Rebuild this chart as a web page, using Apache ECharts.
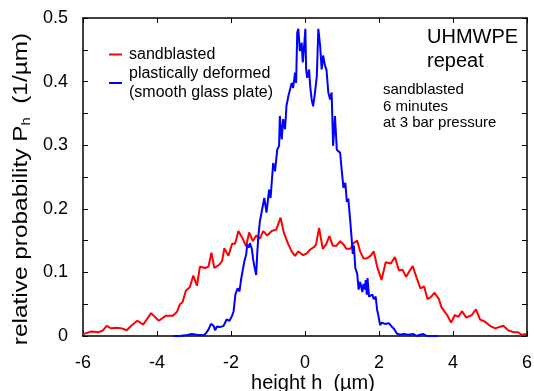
<!DOCTYPE html>
<html>
<head>
<meta charset="utf-8">
<script src="https://cdn.jsdelivr.net/npm/echarts@6/dist/echarts.min.js"></script>
<style>html,body{margin:0;padding:0;background:#fff}#c{width:534px;height:391px}</style>
</head>
<body>
<div id="c"></div>
<script>
// sandblasted (red)
const redH = [-6.00,-5.77,-5.57,-5.46,-5.36,-5.24,-5.08,-4.95,-4.82,-4.68,
  -4.53,-4.37,-4.16,-3.95,-3.76,-3.57,-3.46,-3.38,-3.31,-3.22,
  -3.11,-3.02,-2.92,-2.84,-2.70,-2.61,-2.53,-2.45,-2.32,-2.24,
  -2.18,-2.07,-1.97,-1.89,-1.80,-1.70,-1.59,-1.51,-1.41,-1.32,
  -1.22,-1.13,-1.02,-0.90,-0.78,-0.66,-0.57,-0.45,-0.36,-0.27,
  -0.18,-0.05,0.05,0.14,0.25,0.30,0.38,0.48,0.57,0.66,
  0.75,0.85,0.95,1.04,1.12,1.23,1.31,1.41,1.49,1.58,
  1.67,1.77,1.86,1.95,2.07,2.18,2.32,2.43,2.54,2.64,
  2.73,2.91,3.02,3.12,3.22,3.31,3.40,3.50,3.62,3.69,
  3.84,3.95,4.05,4.14,4.24,4.36,4.51,4.62,4.73,4.85,
  5.00,5.14,5.36,5.49,5.63,5.76,5.85,5.97];
const redP = [0.003,0.007,0.006,0.009,0.016,0.012,0.013,0.012,0.009,0.017,
  0.024,0.018,0.036,0.024,0.032,0.032,0.038,0.050,0.053,0.071,
  0.077,0.095,0.079,0.109,0.107,0.109,0.131,0.107,0.112,0.118,
  0.138,0.126,0.145,0.145,0.165,0.155,0.141,0.163,0.149,0.158,
  0.153,0.165,0.158,0.165,0.167,0.186,0.162,0.144,0.133,0.126,
  0.133,0.127,0.130,0.136,0.140,0.144,0.170,0.137,0.144,0.157,
  0.142,0.142,0.149,0.144,0.137,0.137,0.146,0.150,0.133,0.122,
  0.122,0.126,0.133,0.109,0.088,0.116,0.114,0.124,0.103,0.104,
  0.093,0.110,0.091,0.075,0.078,0.058,0.061,0.068,0.058,0.045,
  0.033,0.021,0.033,0.030,0.039,0.029,0.033,0.042,0.026,0.023,
  0.016,0.012,0.016,0.009,0.006,0.006,0.002,0.003];

// plastically deformed (blue)
const blueH = [-3.57,-3.38,-3.24,-3.06,-2.93,-2.75,-2.68,-2.61,-2.54,-2.47,
  -2.43,-2.38,-2.30,-2.20,-2.12,-2.04,-1.97,-1.93,-1.88,-1.82,
  -1.77,-1.73,-1.69,-1.64,-1.59,-1.56,-1.51,-1.49,-1.44,-1.40,
  -1.37,-1.32,-1.29,-1.26,-1.22,-1.18,-1.10,-1.04,-0.97,-0.93,
  -0.86,-0.81,-0.75,-0.70,-0.68,-0.63,-0.59,-0.54,-0.50,-0.45,
  -0.41,-0.36,-0.32,-0.27,-0.24,-0.21,-0.18,-0.14,-0.09,-0.06,
  -0.03,0.01,0.03,0.06,0.11,0.14,0.18,0.22,0.27,0.32,
  0.36,0.41,0.45,0.49,0.54,0.58,0.63,0.68,0.72,0.76,
  0.81,0.86,0.90,0.95,0.99,1.04,1.09,1.13,1.17,1.22,
  1.26,1.29,1.32,1.36,1.41,1.45,1.49,1.51,1.55,1.58,
  1.62,1.64,1.67,1.69,1.73,1.78,1.82,1.86,1.91,1.95,
  1.98,2.03,2.07,2.12,2.16,2.21,2.27,2.34,2.41,2.48,
  2.57,2.66,2.70,2.79,2.84,2.93,3.02,3.11,3.20,3.29,
  3.42,3.60];
const blueP = [0.000,0.000,0.001,0.003,0.002,0.001,0.004,0.010,0.019,0.016,
  0.009,0.015,0.014,0.016,0.026,0.024,0.032,0.039,0.066,0.075,
  0.070,0.088,0.101,0.117,0.128,0.144,0.139,0.146,0.138,0.120,
  0.110,0.096,0.131,0.157,0.180,0.183,0.217,0.194,0.230,0.217,
  0.272,0.259,0.293,0.299,0.346,0.309,0.341,0.325,0.362,0.377,
  0.375,0.398,0.390,0.414,0.398,0.477,0.483,0.448,0.461,0.430,
  0.451,0.483,0.419,0.406,0.419,0.393,0.372,0.361,0.383,0.409,
  0.483,0.456,0.419,0.441,0.425,0.419,0.383,0.372,0.383,0.299,
  0.346,0.293,0.291,0.288,0.262,0.233,0.241,0.211,0.216,0.183,
  0.154,0.129,0.142,0.107,0.098,0.073,0.085,0.088,0.069,0.082,
  0.073,0.088,0.065,0.091,0.062,0.062,0.065,0.058,0.062,0.041,
  0.033,0.017,0.021,0.024,0.019,0.018,0.020,0.015,0.011,0.004,
  0.002,0.003,0.004,0.002,0.002,0.003,0.000,0.002,0.003,0.000,
  0.000,0.000];

const seriesNames = ['sandblasted', 'plastically deformed\n(smooth glass plate)'];
const xTicks = { min: -6, max: 6, interval: 2 };
const yTicks = { min: 0, max: 0.5, interval: 0.1 };
const FONT = '"Liberation Sans", Arial, Helvetica, sans-serif';

const zip = (a, b) => a.map((v, i) => [v, b[i]]);

const axisLine = { show: true, onZero: false, lineStyle: { color: '#000', width: 1.5 } };
const tick = { show: true, inside: true, length: 5, lineStyle: { color: '#000', width: 1 } };
const minor = { show: true, splitNumber: 2, length: 5, lineStyle: { color: '#000', width: 1 } };
const lbl = { color: '#000', fontSize: 18, fontFamily: FONT, margin: 18 };

const chart = echarts.init(document.getElementById('c'), null, { renderer: 'canvas' });
chart.setOption({
  animation: false,
  backgroundColor: '#fff',
  grid: { left: 83, right: 7, top: 18, bottom: 55, containLabel: false, outerBoundsMode: 'none' },
  xAxis: [
    { type: 'value', position: 'bottom', min: xTicks.min, max: xTicks.max, interval: xTicks.interval,
      axisLine, axisTick: tick, splitLine: { show: false }, axisLabel: lbl,
      name: 'height h  (µm)', nameLocation: 'middle', nameGap: 37, nameMoveOverlap: false,
      nameTextStyle: { color: '#000', fontSize: 20, fontFamily: FONT, padding: [0, 0, 0, 16] } },
    { type: 'value', position: 'top', min: xTicks.min, max: xTicks.max, interval: xTicks.interval,
      axisLine, axisTick: tick, splitLine: { show: false }, axisLabel: { show: false } }
  ],
  yAxis: [
    { type: 'value', position: 'left', min: yTicks.min, max: yTicks.max, interval: yTicks.interval,
      axisLine, axisTick: tick, minorTick: minor, splitLine: { show: false }, minorSplitLine: { show: false },
      axisLabel: Object.assign({}, lbl, { margin: 15 }) },
    { type: 'value', position: 'right', min: yTicks.min, max: yTicks.max, interval: yTicks.interval,
      axisLine, axisTick: tick, minorTick: minor, splitLine: { show: false }, minorSplitLine: { show: false },
      axisLabel: { show: false } }
  ],
  legend: {
    orient: 'vertical', left: 109, top: 45, padding: 0, itemGap: 0,
    itemWidth: 13, itemHeight: 2, icon: 'rect', selectedMode: false,
    data: seriesNames,
    textStyle: { color: '#000', fontSize: 16, lineHeight: 19, fontFamily: FONT, padding: [0, 0, 0, 2] }
  },
  series: [
    { name: seriesNames[0], type: 'line', data: zip(redH, redP), showSymbol: false, symbol: 'none',
      color: '#ff0000', lineStyle: { color: '#ff0000', width: 2 } },
    { name: seriesNames[1], type: 'line', data: zip(blueH, blueP), showSymbol: false, symbol: 'none',
      color: '#0000ff', lineStyle: { color: '#0000ff', width: 2 } }
  ],
  graphic: [
    { type: 'text', x: 427, y: 25,
      style: { text: 'UHMWPE\nrepeat', fill: '#000', fontSize: 20, fontFamily: FONT, lineHeight: 24, align: 'left', verticalAlign: 'top' } },
    { type: 'text', x: 383, y: 82,
      style: { text: 'sandblasted\n6 minutes\nat 3 bar pressure', fill: '#000', fontSize: 15, fontFamily: FONT, lineHeight: 16.5, align: 'left', verticalAlign: 'top' } },
    { type: 'text', x: 21, y: 189, rotation: Math.PI / 2, scaleX: 1.22,
      style: { text: '{a|relative probability P}{s|h}{a|  (1/µm)}', fill: '#000', align: 'center', verticalAlign: 'middle',
        rich: { a: { fontSize: 20, fontFamily: FONT, lineHeight: 24, fill: '#000' },
                s: { fontSize: 12, fontFamily: FONT, lineHeight: 14, verticalAlign: 'bottom', fill: '#000' } } } }
  ]
});
</script>
</body>
</html>
